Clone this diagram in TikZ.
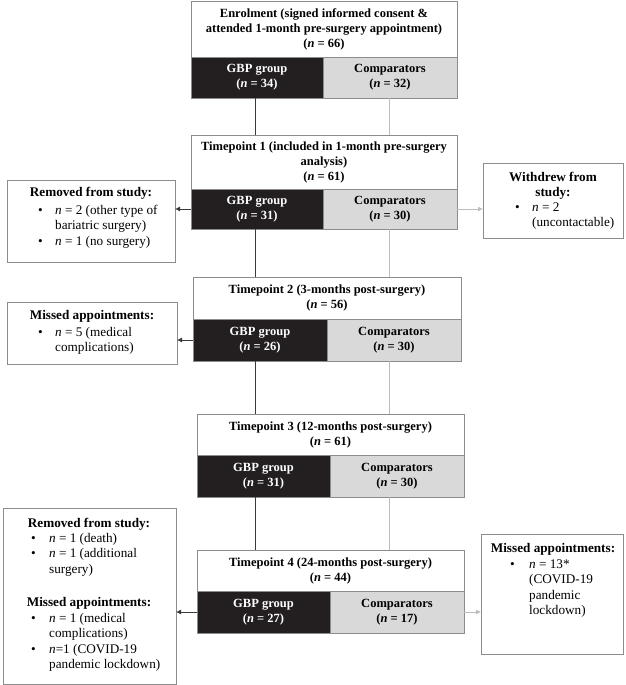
\documentclass[tikz,border=0pt]{standalone}
\usepackage{fontspec}
\setmainfont{Liberation Serif}
\usetikzlibrary{arrows.meta}
\definecolor{cellblack}{HTML}{231F20}
\definecolor{cellgrey}{HTML}{D9D9D9}
\definecolor{edgegrey}{HTML}{8C8C8C}
\definecolor{linedark}{HTML}{3A3A3A}
\definecolor{linelight}{HTML}{BDBDBD}
\newcommand\mkcell[7]{\node[#1, minimum width={#5pt-#3pt}, minimum height={#6pt-#4pt}] (#2) at ({(#3+#5)/2},{(#4+#6)/2}) {#7};}
\newcommand\mkbox[5]{\node[sidebox, minimum width={#4pt-#2pt}, minimum height={#5pt-#3pt}] (#1) at ({(#2+#4)/2},{(#3+#5)/2}) {};}
\newcommand\nn{\textit{n}}
\tikzset{
  base/.style={draw=edgegrey, line width=0.8pt, inner sep=0pt, outer sep=0pt, align=center,
    font=\fontsize{12.5}{15}\selectfont\bfseries},
  header/.style={base, fill=white},
  gbpcell/.style={base, fill=cellblack, text=white},
  compcell/.style={base, fill=cellgrey, text=black},
  sidebox/.style={draw=edgegrey, line width=0.8pt, fill=white, inner sep=0pt, outer sep=0pt},
  sidetitle/.style={inner sep=0pt, align=center, anchor=base, font=\fontsize{13.2}{14.5}\selectfont\bfseries},
  sidelist/.style={inner sep=0pt, anchor=base west, font=\fontsize{13.2}{15.5}\selectfont},
  gbpline/.style={draw=linedark, line width=0.9pt},
  compline/.style={draw=linelight, line width=0.9pt},
  darkarrow/.style={draw=linedark, line width=0.8pt, -{Latex[length=5pt,width=5pt]}},
  lightarrow/.style={draw=linelight, line width=0.8pt, -{Latex[length=5pt,width=5pt]}},
}
\begin{document}
\begin{tikzpicture}[x=1pt,y=-1pt]
\useasboundingbox (0,0) rectangle (626,685);
\coordinate (gx) at (255,0);
\coordinate (cx) at (389,0);

% Enrolment
\mkcell{header}{enrolH}{191}{1}{457}{57}{Enrolment (signed informed consent \&\\attended 1-month pre-surgery appointment)\\(\nn{} = 66)}
\mkcell{gbpcell}{enrolG}{191}{57}{323}{98}{GBP group\\(\nn{} = 34)}
\mkcell{compcell}{enrolC}{323}{57}{457}{98}{Comparators\\(\nn{} = 32)}

% Timepoint 1
\mkcell{header}{tp1H}{191}{135}{457}{189}{Timepoint 1 (included in 1-month pre-surgery\\analysis)\\(\nn{} = 61)}
\mkcell{gbpcell}{tp1G}{191}{189}{323}{229}{GBP group\\(\nn{} = 31)}
\mkcell{compcell}{tp1C}{323}{189}{457}{229}{Comparators\\(\nn{} = 30)}

% Timepoint 2
\mkcell{header}{tp2H}{193}{277}{461}{319}{Timepoint 2 (3-months post-surgery)\\(\nn{} = 56)}
\mkcell{gbpcell}{tp2G}{193}{319}{327}{361}{GBP group\\(\nn{} = 26)}
\mkcell{compcell}{tp2C}{327}{319}{461}{361}{Comparators\\(\nn{} = 30)}

% Timepoint 3
\mkcell{header}{tp3H}{197}{414}{464}{455}{Timepoint 3 (12-months post-surgery)\\(\nn{} = 61)}
\mkcell{gbpcell}{tp3G}{197}{455}{330}{497}{GBP group\\(\nn{} = 31)}
\mkcell{compcell}{tp3C}{330}{455}{464}{497}{Comparators\\(\nn{} = 30)}

% Timepoint 4
\mkcell{header}{tp4H}{197}{550}{464}{591}{Timepoint 4 (24-months post-surgery)\\(\nn{} = 44)}
\mkcell{gbpcell}{tp4G}{197}{591}{330}{633}{GBP group\\(\nn{} = 27)}
\mkcell{compcell}{tp4C}{330}{591}{464}{633}{Comparators\\(\nn{} = 17)}

% Side boxes
\mkbox{rm1}{7}{180}{175}{262}
\node[sidetitle] (rm1T) at (91,196) {Removed from study:};
\node[sidelist] (rm1L) at (38,214) {\begin{tabular}[t]{@{}p{17pt}@{}l@{}}\textbullet & \nn{} = 2 (other type of\\ & bariatric surgery)\\ \textbullet & \nn{} = 1 (no surgery)\end{tabular}};

\mkbox{wd1}{483}{163}{623}{238}
\node[sidetitle] (wd1T) at (553,196) {Withdrew from\\study:};
\node[sidelist] (wd1L) at (515,211) {\begin{tabular}[t]{@{}p{17pt}@{}l@{}}\textbullet & \nn{} = 2\\ & (uncontactable)\end{tabular}};

\mkbox{ms2}{7}{302}{177}{364}
\node[sidetitle] (ms2T) at (92,319) {Missed appointments:};
\node[sidelist] (ms2L) at (38,336) {\begin{tabular}[t]{@{}p{17pt}@{}l@{}}\textbullet & \nn{} = 5 (medical\\ & complications)\end{tabular}};

\mkbox{rm4}{3}{508}{176}{684}
\node[sidetitle] (rm4T) at (89,527) {Removed from study:};
\node[sidelist] (rm4L) at (31,542) {\begin{tabular}[t]{@{}p{18pt}@{}l@{}}\textbullet & \nn{} = 1 (death)\\ \textbullet & \nn{} = 1 (additional\\ & surgery)\end{tabular}};
\node[sidetitle] (ms4T) at (89,606) {Missed appointments:};
\node[sidelist] (ms4L) at (31,622) {\begin{tabular}[t]{@{}p{18pt}@{}l@{}}\textbullet & \nn{} = 1 (medical\\ & complications)\\ \textbullet & \nn{}=1 (COVID-19\\ & pandemic lockdown)\end{tabular}};

\mkbox{ms4r}{481}{534}{623}{654}
\node[sidetitle] (ms4rT) at (553,552) {Missed appointments:};
\node[sidelist] (ms4rL) at (510,568) {\begin{tabular}[t]{@{}p{19pt}@{}l@{}}\textbullet & \nn{} = 13*\\ & (COVID-19\\ & pandemic\\ & lockdown)\end{tabular}};

% Vertical connectors
\draw[gbpline] (enrolG.south -| gx) -- (tp1H.north -| gx);
\draw[compline] (enrolC.south -| cx) -- (tp1H.north -| cx);
\draw[gbpline] (tp1G.south -| gx) -- (tp2H.north -| gx);
\draw[compline] (tp1C.south -| cx) -- (tp2H.north -| cx);
\draw[gbpline] (tp2G.south -| gx) -- (tp3H.north -| gx);
\draw[compline] (tp2C.south -| cx) -- (tp3H.north -| cx);
\draw[gbpline] (tp3G.south -| gx) -- (tp4H.north -| gx);
\draw[compline] (tp3C.south -| cx) -- (tp4H.north -| cx);

% Side arrows
\draw[darkarrow] (tp1G.west) -- (rm1.east |- tp1G.west);
\draw[lightarrow] (tp1C.east) -- (wd1.west |- tp1C.east);
\draw[darkarrow] (tp2G.west) -- (ms2.east |- tp2G.west);
\draw[darkarrow] (tp4G.west) -- (rm4.east |- tp4G.west);
\draw[lightarrow] (tp4C.east) -- (ms4r.west |- tp4C.east);
\end{tikzpicture}
\end{document}
